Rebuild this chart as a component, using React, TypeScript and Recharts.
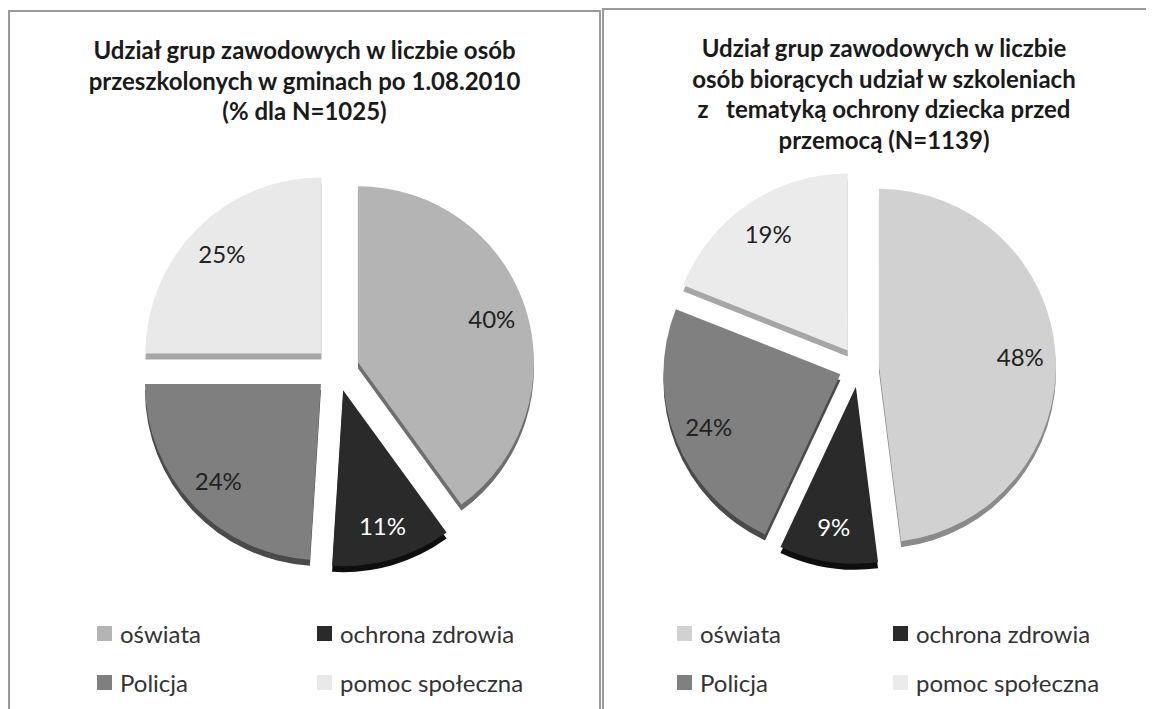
import React from 'react';
import { PieChart, Pie, Cell, Legend, Sector } from 'recharts';

const categories = ['oświata', 'ochrona zdrowia', 'Policja', 'pomoc społeczna'];
const leftValues = [40, 11, 24, 25];
const rightValues = [48, 9, 24, 19];

const leftTitle = [
  'Udział grup zawodowych w liczbie osób',
  'przeszkolonych w gminach po 1.08.2010',
  '(% dla N=1025)',
];
const rightTitle = [
  'Udział grup zawodowych w liczbie',
  'osób biorących udział w szkoleniach',
  'z   tematyką ochrony dziecka przed',
  'przemocą (N=1139)',
];

const leftColors = ['#b4b4b4', '#2a2a2a', '#7f7f7f', '#e9e9e9'];
const rightColors = ['#d1d1d1', '#2a2a2a', '#808080', '#ebebeb'];
const leftSide = ['#6e6e6e', '#0e0e0e', '#4a4a4a', '#a6a6a6'];
const rightSide = ['#8a8a8a', '#0e0e0e', '#4a4a4a', '#a6a6a6'];
const labelColors = ['#222', '#fff', '#222', '#222'];

const leftData = categories.map((name, i) => ({ name, value: leftValues[i] }));
const rightData = categories.map((name, i) => ({ name, value: rightValues[i] }));

const RAD = Math.PI / 180;
const FONT = 'Lato, "Open Sans", sans-serif';

function makeShape(explode: number, depth: number, sides: string[]) {
  return (props: any) => {
    const { cx, cy, innerRadius, outerRadius, startAngle, endAngle, fill, index } = props;
    const mid = (startAngle + endAngle) / 2;
    const dx = explode * Math.cos(-mid * RAD);
    const dy = explode * Math.sin(-mid * RAD);
    const i = typeof index === 'number' ? index : 0;
    return (
      <g>
        <Sector cx={cx + dx} cy={cy + dy + depth} innerRadius={innerRadius} outerRadius={outerRadius}
          startAngle={startAngle} endAngle={endAngle} fill={sides[i] || '#666'} stroke="none" />
        <Sector cx={cx + dx} cy={cy + dy} innerRadius={innerRadius} outerRadius={outerRadius}
          startAngle={startAngle} endAngle={endAngle} fill={fill} stroke="none" />
      </g>
    );
  };
}

function makeLabel(explode: number, frac: number) {
  return (props: any) => {
    const { cx, cy, outerRadius, midAngle, value, index } = props;
    const d = explode + frac * outerRadius;
    const x = cx + d * Math.cos(-midAngle * RAD);
    const y = cy + d * Math.sin(-midAngle * RAD);
    return (
      <text x={x} y={y} textAnchor="middle" dominantBaseline="central"
        fill={labelColors[index]} fontFamily={FONT} fontSize={24}>
        {`${value}%`}
      </text>
    );
  };
}

function makeLegend(colW: number) {
  return (props: any) => {
    const payload = [...(props.payload || [])].sort(
      (a: any, b: any) => categories.indexOf(a.value) - categories.indexOf(b.value)
    );
    return (
      <div style={{ display: 'grid', gridTemplateColumns: `${colW}px ${colW}px`, fontFamily: FONT, fontSize: 24, color: '#333' }}>
        {payload.map((p: any, i: number) => (
          <div key={i} style={{ display: 'flex', alignItems: 'center', height: 49 }}>
            <span style={{ display: 'inline-block', width: 15, height: 15, background: p.color, marginRight: 8 }} />
            <span>{p.value}</span>
          </div>
        ))}
      </div>
    );
  };
}

function Title({ lines, width }: { lines: string[]; width: number }) {
  return (
    <div style={{ position: 'absolute', left: 0, top: 23, width, textAlign: 'center', fontFamily: FONT, fontWeight: 700, fontSize: 24, lineHeight: '30.5px', color: '#1a1a1a', whiteSpace: 'pre', zIndex: 2 }}>
      {lines.map((l, i) => <div key={i}>{l}</div>)}
    </div>
  );
}

export default function App() {
  return (
    <div style={{ position: 'relative', width: 1146, height: 701, overflow: 'hidden', background: '#fff' }}>
      <div style={{ position: 'absolute', left: 0, top: 2, width: 593, height: 716, border: '2px solid #9a9a9a', boxSizing: 'border-box', background: '#fff' }}>
        <div style={{ position: 'relative', width: 589, height: 712 }}>
          <Title lines={leftTitle} width={589} />
          <PieChart width={589} height={712} margin={{ top: 0, right: 0, bottom: 0, left: 0 }}>
            <Pie data={leftData} dataKey="value" nameKey="name" cx={327} cy={357} outerRadius={176}
              startAngle={90} endAngle={-270} isAnimationActive={false} stroke="none"
              shape={makeShape(22, 6, leftSide)} label={makeLabel(22, 0.8)} labelLine={false}>
              {leftData.map((d, i) => <Cell key={d.name} fill={leftColors[i]} />)}
            </Pie>
            <Legend content={makeLegend(220)} wrapperStyle={{ position: 'absolute', left: 87, top: 597, width: 460, bottom: 'auto' }} />
          </PieChart>
        </div>
      </div>
      <div style={{ position: 'absolute', left: 594, top: 0, width: 564, height: 716, border: '2px solid #9a9a9a', boxSizing: 'border-box', background: '#fff' }}>
        <div style={{ position: 'relative', width: 560, height: 712 }}>
          <Title lines={rightTitle} width={560} />
          <PieChart width={560} height={712} margin={{ top: 0, right: 0, bottom: 0, left: 0 }}>
            <Pie data={rightData} dataKey="value" nameKey="name" cx={255} cy={357} outerRadius={177}
              startAngle={90} endAngle={-270} isAnimationActive={false} stroke="none"
              shape={makeShape(20, 6, rightSide)} label={makeLabel(20, 0.8)} labelLine={false}>
              {rightData.map((d, i) => <Cell key={d.name} fill={rightColors[i]} />)}
            </Pie>
            <Legend content={makeLegend(216)} wrapperStyle={{ position: 'absolute', left: 73, top: 599, width: 460, bottom: 'auto' }} />
          </PieChart>
        </div>
      </div>
    </div>
  );
}
